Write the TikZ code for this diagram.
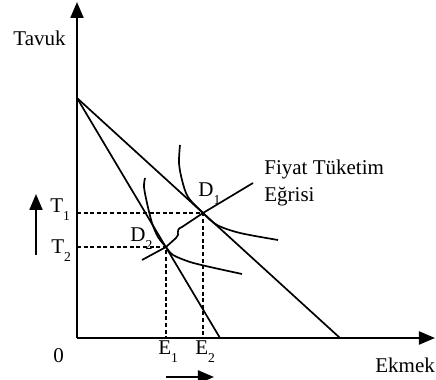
\documentclass[tikz,border=0pt]{standalone}
\usepackage{fontspec}
\setmainfont{Liberation Serif}
\usetikzlibrary{arrows.meta}
\newcommand{\lo}[1]{\raisebox{-4pt}{\fontsize{6.8}{7}\selectfont #1}}
\tikzset{
  axis/.style={line width=1.1pt,-{Triangle[length=8pt,width=6.5pt]}},
  curve/.style={line width=0.85pt},
  guide/.style={line width=0.8pt,dash pattern=on 2pt off 1.3pt},
  lbl/.style={inner sep=0pt,anchor=base west,font=\fontsize{10.5}{12}\selectfont},
}

\begin{document}
\begin{tikzpicture}[x=0.5pt,y=0.5pt]
\useasboundingbox (0,0) rectangle (436,380);
% points
\coordinate (O) at (77,42);
\coordinate (ytop) at (77,378);
\coordinate (xend) at (435,42);
\coordinate (A) at (77,282);
\coordinate (B1) at (220,42);
\coordinate (B2) at (340,42);
\coordinate (D1) at (203,167);
\coordinate (D2) at (166,133);
\coordinate (P0) at (142,120);
\coordinate (P3) at (253,197);
% axes
\draw[axis] (O) -- (ytop);
\draw[axis] (O) -- (xend);
% budget lines
\draw[curve] (A) -- (B1);
\draw[curve] (A) -- (B2);
% dashed guides
\draw[guide] (O |- D1) -- (D1) -- (D1 |- O);
\draw[guide] (O |- D2) -- (D2) -- (D2 |- O);
% indifference curves
\draw[curve] plot[smooth] coordinates {(180,235) (179,217) (182,200) (188,183) (D1) (217,155) (240,147) (278,140)};
\draw[curve] plot[smooth] coordinates {(145,202) (144,193) (147,177) (152,157) (158,143) (D2) (173,125) (190,118) (210,113) (242,106)};
% price consumption curve
\draw[curve] (P0) -- (D2) -- (176,142) .. controls (181,146) and (174,150) .. (182,153) -- (D1) -- (P3);
% shift arrows
\coordinate (u0) at (36,125);
\coordinate (u1) at (36,186);
\coordinate (r0) at (166,3);
\coordinate (r1) at (214,3);
\draw[axis] (u0) -- (u1);
\draw[axis] (r0) -- (r1);
% labels
\node[lbl] (tavuk) at (13,334) {Tavuk};
\node[lbl] (ekmek) at (375,7) {Ekmek};
\node[lbl] (zero) at (53,17) {0};
\node[lbl] (t1) at (50,167) {T\lo{1}};
\node[lbl] (t2) at (51,126) {T\lo{2}};
\node[lbl] (e1) at (158,25) {E\lo{1}};
\node[lbl] (e2) at (195,25) {E\lo{2}};
\node[lbl] (d1) at (198,183) {D\lo{1}};
\node[lbl] (d2) at (130,138) {D\lo{2}};
\node[lbl] (fiyat) at (264,205) {Fiyat Tüketim};
\node[lbl] (egri) at (264,178) {Eğrisi};
\end{tikzpicture}
\end{document}
